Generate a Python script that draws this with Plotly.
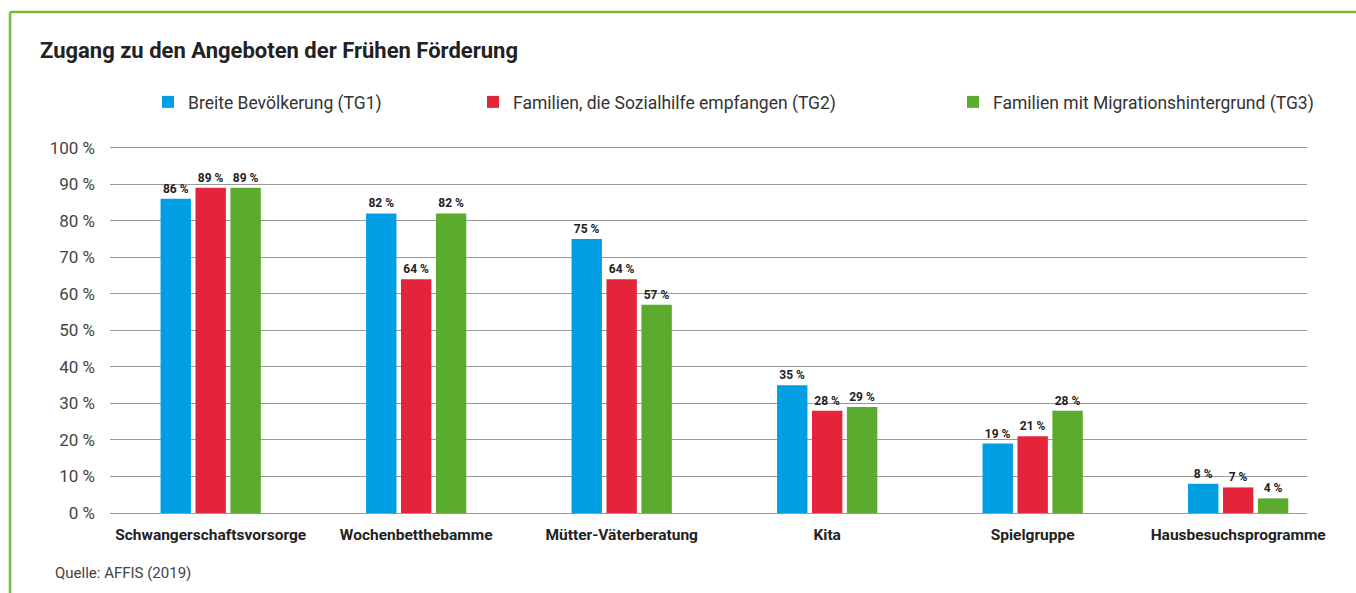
import plotly.graph_objects as go

categories = ["Schwangerschaftsvorsorge", "Wochenbetthebamme", "Mütter-Väterberatung",
              "Kita", "Spielgruppe", "Hausbesuchsprogramme"]
tg1 = [86, 82, 75, 35, 19, 8]
tg2 = [89, 64, 64, 28, 21, 7]
tg3 = [89, 82, 57, 29, 28, 4]
series_names = ["Breite Bevölkerung (TG1)",
                "Familien, die Sozialhilfe empfangen (TG2)",
                "Familien mit Migrationshintergrund (TG3)"]
colors = ["#009fe3", "#e3243b", "#5aab2e"]
y_ticks = [0, 10, 20, 30, 40, 50, 60, 70, 80, 90, 100]
y_tick_labels = [f"{v} %" for v in y_ticks]
title_text = "Zugang zu den Angeboten der Frühen Förderung"
source_text = "Quelle: AFFIS (2019)"

FONT = "Roboto"
W, H = 1356, 593
L, R, T, B = 110, 49, 144, 80
pw = W - L - R
ph = H - T - B

fig = go.Figure()
legends = ["legend", "legend2", "legend3"]
for vals, name, col, lg in zip([tg1, tg2, tg3], series_names, colors, legends):
    fig.add_trace(go.Bar(
        x=categories, y=vals, name=name, marker_color=col, marker_line_width=0,
        text=[f"{v} %" for v in vals], textposition="outside",
        textfont=dict(family=FONT, size=12, color="#222", weight="bold"),
        cliponaxis=False, legend=lg,
    ))

def px_x(px):
    return (px - L) / pw

def px_y(py):
    return (H - B - py) / ph

leg_common = dict(orientation="h", yanchor="middle", xanchor="left",
                  font=dict(family=FONT, size=17.5, color="#333"),
                  bgcolor="rgba(0,0,0,0)", itemwidth=30)
fig.update_layout(
    width=W, height=H,
    margin=dict(l=L, r=R, t=T, b=B),
    paper_bgcolor="white", plot_bgcolor="white",
    barmode="group", bargap=0.49, bargroupgap=0.13,
    title=dict(text=title_text, x=40 / W, xanchor="left", y=1 - 50 / H, yanchor="middle",
               font=dict(family=FONT, size=22, color="#222", weight="bold")),
    legend=dict(x=px_x(148), y=px_y(102), **leg_common),
    legend2=dict(x=px_x(473), y=px_y(102), **leg_common),
    legend3=dict(x=px_x(953), y=px_y(102), **leg_common),
    xaxis=dict(range=[-0.49, 5.335], showgrid=False, showline=False, zeroline=False,
               tickfont=dict(family=FONT, size=15.5, color="#222", weight="bold"),
               ticks="", ticklabelstandoff=10),
    yaxis=dict(range=[0, 101], tickmode="array", tickvals=y_ticks, ticktext=y_tick_labels,
               showgrid=True, gridcolor="#9a9a9a", gridwidth=1,
               zeroline=True, zerolinecolor="#9a9a9a", zerolinewidth=1,
               showline=False, ticks="", ticklabelstandoff=14,
               tickfont=dict(family=FONT, size=17, color="#444")),
    showlegend=True,
)

frame_col = "#78b83d"
fig.add_shape(type="line", xref="paper", yref="paper",
              x0=px_x(10), x1=px_x(10), y0=px_y(12), y1=px_y(600),
              line=dict(color=frame_col, width=2.5))
fig.add_shape(type="line", xref="paper", yref="paper",
              x0=px_x(10), x1=px_x(1360), y0=px_y(12), y1=px_y(12),
              line=dict(color=frame_col, width=2.5))

fig.add_annotation(text=source_text, xref="paper", yref="paper",
                   x=px_x(53), y=px_y(573), xanchor="left", yanchor="middle",
                   showarrow=False, font=dict(family=FONT, size=15, color="#444"))

fig.write_html("out.html")
